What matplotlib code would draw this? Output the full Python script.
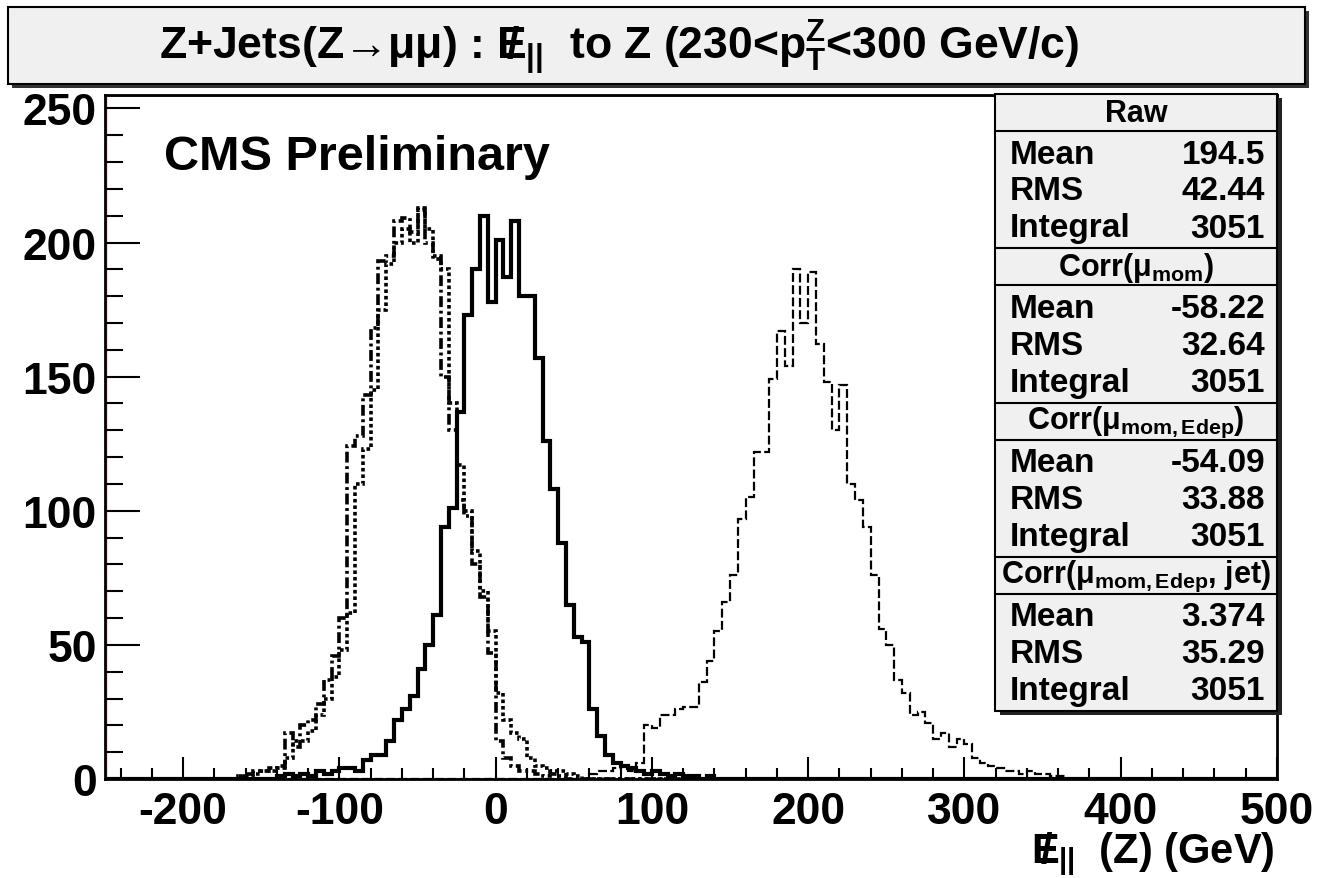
import numpy as np
import matplotlib.pyplot as plt
from matplotlib.patches import Rectangle

plt.rcParams['font.family'] = ['Liberation Sans', 'DejaVu Sans']
plt.rcParams['font.weight'] = 'bold'
plt.rcParams['mathtext.fontset'] = 'custom'
plt.rcParams['mathtext.rm'] = 'Liberation Sans:bold'
plt.rcParams['mathtext.it'] = 'Liberation Sans:bold'
plt.rcParams['mathtext.bf'] = 'Liberation Sans:bold'
plt.rcParams['axes.unicode_minus'] = False

# binning of the histograms (GeV)
x_min, x_max, bin_width = -250, 500, 5

# counts per 5 GeV bin, each list starts at the given lower edge
raw_start = 60
raw_counts = [2, 3, 3, 4, 5, 3, 6, 20, 19, 24, 24, 26, 27, 27, 36, 44, 55, 66, 76, 97,
              105, 122, 122, 149, 167, 154, 190, 170, 189, 162, 148, 130, 147, 110, 104, 94,
              76, 56, 50, 37, 32, 24, 25, 21, 15, 17, 12, 15, 13, 8, 6, 5, 4, 3, 3, 2,
              3, 2, 2, 1, 1]

mom_start = -165
mom_counts = [1, 2, 3, 3, 4, 5, 17, 12, 20, 22, 28, 37, 46, 60, 124, 128, 143, 168, 193, 195,
              208, 209, 204, 212, 200, 194, 150, 130, 104, 98, 80, 68, 47, 14, 8, 5, 3, 3,
              2, 1, 2, 1]

edep_start = -165
edep_counts = [1, 1, 2, 3, 3, 4, 8, 14, 14, 18, 24, 30, 38, 48, 62, 110, 123, 145, 175, 192,
               200, 205, 200, 213, 205, 195, 190, 140, 117, 100, 85, 70, 55, 32, 22, 17, 15,
               8, 5, 4, 3, 3, 2, 1]

jet_start = -140
jet_counts = [1, 2, 1, 2, 1, 3, 2, 3, 4, 4, 3, 7, 9, 9, 14, 22, 26, 31, 41, 50, 61, 94, 101,
              137, 173, 190, 210, 178, 201, 187, 208, 180, 180, 157, 126, 108, 88, 65, 53,
              51, 26, 16, 9, 6, 5, 4, 3, 2, 3, 2, 1, 2, 1, 1, 0, 1]

stat_headers = ["Raw", r"Corr($\mu_{mom}$)", r"Corr($\mu_{mom,Edep}$)", r"Corr($\mu_{mom,Edep}$, jet)"]
stat_means = ["194.5", "-58.22", "-54.09", "3.374"]
stat_rms = ["42.44", "32.64", "33.88", "35.29"]
stat_integrals = ["3051", "3051", "3051", "3051"]

# missing-E symbol: E with a slash drawn over it
met = r"${E\!\!\!/\,}_{||}$"

W, H = 1321, 879


def fx(px):
    return px / W


def fy(py):
    return 1 - py / H


def full_hist(start, counts):
    h = np.zeros(int((x_max - x_min) / bin_width))
    i0 = int((start - x_min) / bin_width)
    h[i0:i0 + len(counts)] = counts
    return h


edges = np.arange(x_min, x_max + bin_width, bin_width)

fig = plt.figure(figsize=(W / 100, H / 100), dpi=100)
ax = fig.add_axes([fx(105), fy(780), fx(1277) - fx(105), fy(96) - fy(780)])

ax.axhline(0, color='#e07070', lw=1.5, zorder=1)
ax.stairs(full_hist(raw_start, raw_counts), edges, color='black', lw=1.6,
          linestyle=(0, (4, 1.5)), zorder=3)
ax.stairs(full_hist(mom_start, mom_counts), edges, color='black', lw=2.6,
          linestyle=(0, (3, 1, 0.8, 1)), zorder=3)
ax.stairs(full_hist(edep_start, edep_counts), edges, color='black', lw=2.6,
          linestyle=(0, (1, 0.8)), zorder=3)
ax.stairs(full_hist(jet_start, jet_counts), edges, color='black', lw=3.0, zorder=4)

ax.set_xlim(x_min, x_max)
ax.set_ylim(0, 255)
ax.axhline(255, color='#e07070', lw=2.0, zorder=1)
ax.axvline(x_min, color='#e07070', lw=2.5, zorder=1)

ax.set_xticks(np.arange(-200, 501, 100))
ax.set_xticks(np.arange(-240, 501, 20), minor=True)
ax.set_yticks(np.arange(0, 251, 50))
ax.set_yticks(np.arange(0, 256, 10), minor=True)
ax.tick_params(axis='both', which='both', direction='in', width=1.5, labelsize=32,
               top=False, right=False)
ax.tick_params(axis='y', which='major', length=25, pad=6)
ax.tick_params(axis='y', which='minor', length=13)
ax.tick_params(axis='x', which='major', length=16, pad=9)
ax.tick_params(axis='x', which='minor', length=8)
for lab in ax.get_xticklabels() + ax.get_yticklabels():
    lab.set_fontweight('bold')
for sp in ax.spines.values():
    sp.set_linewidth(2)

ax.text(0.05, 0.91, "CMS Preliminary", transform=ax.transAxes, fontsize=35,
        fontweight='bold', ha='left', va='center')

# title box with shadow
fig.patches.append(Rectangle((fx(12), fy(89)), fx(1305) - fx(8), fy(8) - fy(85),
                             transform=fig.transFigure, facecolor='#333333',
                             edgecolor='none', zorder=0))
fig.patches.append(Rectangle((fx(8), fy(85)), fx(1305) - fx(8), fy(8) - fy(85),
                             transform=fig.transFigure, facecolor='#f0f0f0',
                             edgecolor='black', lw=1.5, zorder=1))
fig.text(fx(619), fy(47),
         "Z+Jets(Z\u2192\u03bc\u03bc) : " + met + "  to Z (230<p$_{T}^{Z}$<300 GeV/c)",
         ha='center', va='center', fontsize=32, fontweight='bold', zorder=3)

# statistics boxes
box_l, box_r, box_t, box_b = 995, 1277, 95, 712
fig.patches.append(Rectangle((fx(box_l + 5), fy(box_b + 4)), fx(box_r) - fx(box_l),
                             fy(box_t) - fy(box_b), transform=fig.transFigure,
                             facecolor='#222222', edgecolor='none', zorder=5))
fig.patches.append(Rectangle((fx(box_l), fy(box_b)), fx(box_r) - fx(box_l),
                             fy(box_t) - fy(box_b), transform=fig.transFigure,
                             facecolor='#f0f0f0', edgecolor='black', lw=1.5, zorder=6))
sec_h = (box_b - box_t) / len(stat_headers)
for k, header in enumerate(stat_headers):
    top = box_t + k * sec_h
    if k > 0:
        fig.lines.append(plt.Line2D([fx(box_l), fx(box_r)], [fy(top), fy(top)],
                                    transform=fig.transFigure, color='black', lw=1.5, zorder=7))
    fig.lines.append(plt.Line2D([fx(box_l), fx(box_r)], [fy(top + 37), fy(top + 37)],
                                transform=fig.transFigure, color='black', lw=1.5, zorder=7))
    fig.text(fx((box_l + box_r) / 2), fy(top + 19), header, ha='center', va='center',
             fontsize=22, zorder=8)
    rows = [("Mean", stat_means[k]), ("RMS", stat_rms[k]), ("Integral", stat_integrals[k])]
    for j, (name, val) in enumerate(rows):
        yy = top + 60 + 37 * j
        fig.text(fx(1010), fy(yy), name, ha='left', va='center', fontsize=24, zorder=8)
        fig.text(fx(1265), fy(yy), val, ha='right', va='center', fontsize=24, zorder=8)

fig.text(fx(1275), fy(854), met + "  (Z) (GeV)", ha='right', va='center',
         fontsize=30, fontweight='bold')

fig.savefig("out.png", dpi=100)
